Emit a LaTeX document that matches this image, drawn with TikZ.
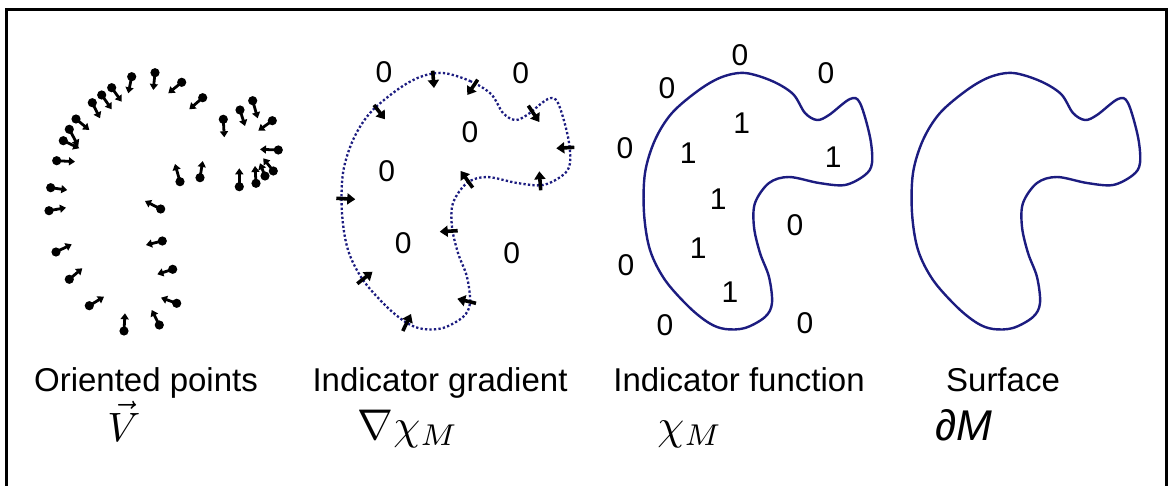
\documentclass[tikz,border=0pt]{standalone}
\usepackage{fontspec}
\setmainfont{Liberation Sans}
\usetikzlibrary{arrows.meta}
\definecolor{blobblue}{RGB}{28,28,128}
\tikzset{
  blobline/.style={draw=blobblue, line width=2.4pt},
  pics/blob/.style={code={
    \path[blobline] plot[smooth cycle, tension=0.55] coordinates {
      (1013,73) (1040,81) (1061,94) (1073,113) (1085,120) (1097,115) (1118,99)
      (1128,103) (1138,137) (1140,163) (1133,175) (1113,185) (1087,183)
      (1057,177) (1037,183) (1023,203) (1022,227) (1028,253) (1037,277)
      (1040,303) (1033,317) (1013,328) (993,329) (977,323) (957,307)
      (933,280) (918,250) (912,213) (913,173) (923,140) (940,113) (967,90) (990,77)};
  }},
  ptarrow/.style={line width=2.8pt, -{Triangle[length=6pt,width=8pt]}},
  gradarrow/.style={line width=3.6pt, -{Triangle[length=8pt,width=11pt]}},
  caption/.style={anchor=base, inner sep=0pt, font=\fontsize{33}{36}\selectfont},
  mathlabel/.style={anchor=base, inner sep=0pt},
  digit/.style={font=\fontsize{30}{32}\selectfont, inner sep=0pt},
}
\begin{document}
\begin{tikzpicture}[x=1pt,y=-1pt]
\useasboundingbox (0,0) rectangle (1169,486);
\fill[white] (0,0) rectangle (1169,486);
% frame
\draw[line width=3pt] (6,600) -- (6,9.5) -- (1166,9.5) -- (1166,600);

% panel 1: oriented points
\foreach \ax/\ay/\bx/\by in {
  131.7/76.7/128.3/93.3, 155/72.7/153.3/90, 181.7/82.3/168.3/93.3,
  202.7/97.7/189.3/109.3, 111.7/87.7/121.7/101.7, 101.7/95/111.7/109.3,
  92.3/102.7/100/118.3, 76/119/89.3/130, 69.3/129.3/78.3/146,
  63.3/140.7/79.3/148.3, 56.7/160.7/75/161.7, 50.7/187.7/67.3/190,
  49/210.7/66/207.7, 56/252/71.7/244.3, 69.3/279.3/82.3/268.3,
  89.3/305.7/104/296.7, 124/331/125/313.3, 159.3/325/151.7/310,
  176.7/303.3/161/297.7, 172.7/269.3/157.3/274.3, 162.3/241/146/245,
  160.7/209/145/201, 180/181.7/175/164, 200/177.7/202.7/161,
  239.3/186.7/239.3/168.3, 256/183.3/255/166, 265/176/260/163.3,
  273.3/171/263.3/158.3, 278.3/150/260/149.3, 272.3/120.7/258.3/130.7,
  252.7/100.7/257.7/118.3, 240/110/245/126, 223.3/119.3/224.3/137.3}
{
  \coordinate (p) at (\ax,\ay);
  \coordinate (q) at (\bx,\by);
  \fill (p) circle (4.6pt);
  \draw[ptarrow] (p) -- (q);
}

% panel 2: indicator gradient
\begin{scope}[blobline/.style={draw=blobblue, line width=2.3pt, dash pattern=on 2.3pt off 2.2pt}]
  \pic at (-570,0) {blob};
\end{scope}
\foreach \ax/\ay/\bx/\by in {
  432.7/70.7/434/88, 477.7/79.7/467.3/95, 374/105/385/119.3,
  528.3/105.7/539.3/122, 574.3/147.3/556.3/148.3, 540.7/190.3/539.3/171.3,
  472.7/187.7/460.7/171, 457.7/230.7/439.7/231.7, 336.3/198.3/355.3/199.3,
  357.3/283.7/372.5/271.7, 402.8/331/411/314, 476/303.3/457.3/298.8}
{
  \coordinate (p) at (\ax,\ay);
  \coordinate (q) at (\bx,\by);
  \draw[gradarrow] (p) -- (q);
}
\foreach \x/\y [count=\i] in {384/71.7, 520.7/73.3, 470/131.7, 386.7/170.7, 403.3/243.3, 511.7/253.3}
  \node[digit] (gz\i) at (\x,\y) {0};

% panel 3: indicator function
\pic at (-268,0) {blob};
\foreach \x/\y [count=\i] in {740/55, 667/88.3, 826/72.7, 625/148.3, 795/225, 626/265, 665/325, 805/323.3}
  \node[digit] (fz\i) at (\x,\y) {0};
\foreach \x/\y [count=\i] in {741.7/123.3, 688.3/153.3, 833.3/156.7, 718.3/199, 698.3/248.3, 730/291.7}
  \node[digit] (fo\i) at (\x,\y) {1};

% panel 4: surface
\pic at (0,0) {blob};

% captions
\node[caption] (c1) at (146,391) {Oriented points};
\node[caption] (c2) at (440,391) {Indicator gradient};
\node[caption] (c3) at (739,391) {Indicator function};
\node[caption] (c4) at (1003,391) {Surface};
\node[mathlabel] (m1) at (124,441) {\scalebox{4.1}{$\vec{V}$}};
\node[mathlabel] (m2) at (408,439) {\scalebox{4.3}{$\nabla\chi_M$}};
\node[mathlabel] (m3) at (690,439) {\scalebox{4.3}{$\chi_M$}};
\node[mathlabel] (m4) at (964,440) {\fontsize{43}{48}\selectfont ∂\textit{M}};
\end{tikzpicture}
\end{document}
